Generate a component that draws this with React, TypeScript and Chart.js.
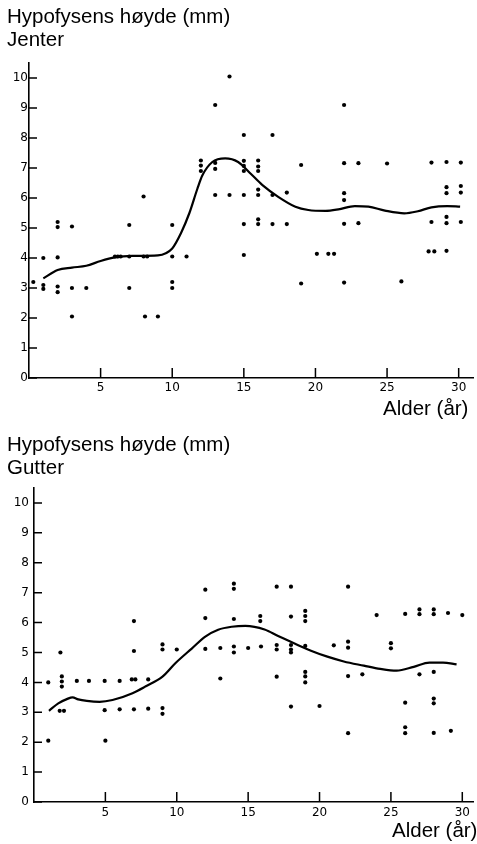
import React, { useEffect, useRef } from 'react';
import { Chart, registerables } from 'chart.js';

Chart.register(...registerables);

// ---- tick values ----
const yTickValues = [0, 1, 2, 3, 4, 5, 6, 7, 8, 9, 10];
const xTickValues = [5, 10, 15, 20, 25, 30];

// ---- Jenter (girls) ----
const girlsAge = [
  0.3, 1, 1, 1, 2, 2, 2, 2, 2, 3, 3, 3, 4, 6, 6.2, 6.4, 7, 7, 7, 8, 8, 8.25, 8.1, 9,
  10, 10, 10, 10, 11, 12, 12, 12, 13, 13, 13, 13, 14, 14,
  15, 15, 15, 15, 15, 15, 15, 16, 16, 16, 16, 16, 16, 16, 17, 17, 17, 18, 18,
  19, 19, 20.1, 20.9, 21.3, 22, 22, 22, 22, 22, 22, 23, 23, 25, 26,
  28.1, 28.1, 27.9, 28.3, 29.15, 29.15, 29.15, 29.15, 29.15, 29.15, 30.15, 30.15, 30.15, 30.15,
];
const girlsHeight = [
  3.2, 4.0, 3.1, 2.97, 5.2, 5.03, 4.02, 3.05, 2.86, 5.05, 3.0, 2.05, 3.0, 4.05, 4.05, 4.05, 5.1, 4.05, 3.0, 6.05, 4.05, 4.05, 2.05, 2.05,
  5.1, 4.05, 3.2, 3.0, 4.05, 7.25, 7.08, 6.9, 9.1, 7.17, 6.97, 6.1, 10.05, 6.1,
  8.1, 7.24, 7.07, 6.9, 6.1, 5.13, 4.1, 7.25, 7.05, 6.9, 6.28, 6.1, 5.29, 5.13, 8.1, 6.1, 5.13, 6.18, 5.13,
  7.1, 3.15, 4.14, 4.14, 4.14, 9.1, 7.16, 6.16, 5.93, 5.14, 3.18, 7.16, 5.16, 7.15, 3.22,
  7.18, 5.2, 4.22, 4.22, 7.2, 6.36, 6.16, 5.37, 5.16, 4.24, 7.18, 6.4, 6.18, 5.2,
];
const girlsCurveAge = [
  1.0, 2.0, 3.0, 4.0, 5.0, 6.0, 7.2, 9.0, 10.0, 10.6, 11.2, 11.75, 12.1, 12.8, 13.7, 14.6, 15.5, 16.3, 17.4,
  18.6, 19.5, 20.7, 21.6, 22.75, 23.7, 24.85, 26.2, 27.15, 28.1, 29.2, 30.1,
];
const girlsCurveHeight = [
  3.32, 3.6, 3.68, 3.74, 3.9, 4.02, 4.07, 4.09, 4.32, 4.82, 5.5, 6.3, 6.75, 7.2, 7.32, 7.2, 6.8, 6.43, 6.04,
  5.71, 5.6, 5.57, 5.62, 5.73, 5.71, 5.58, 5.49, 5.56, 5.69, 5.73, 5.71,
];

// ---- Gutter (boys) ----
const boysAge = [
  1, 1, 1.85, 1.95, 1.95, 1.95, 1.8, 2.1, 3, 3.85, 4.95, 4.95, 5, 6, 6, 6.85, 7.1, 7, 7, 7, 8, 8,
  9, 9, 9, 9, 10, 12, 12, 12, 13.05, 13.05, 14, 14, 14, 14, 14, 15, 15.85, 15.85, 15.9,
  17, 17, 17, 17, 18, 18, 18, 18, 18, 18, 19, 19, 19, 19, 19, 19, 19, 20, 21,
  22, 22, 22, 22, 22, 23, 24, 25, 25, 26, 26, 26, 26, 27, 27, 27, 28, 28, 28, 28, 28, 28, 29, 29.2, 30,
];
const boysHeight = [
  4.0, 2.05, 5.0, 4.2, 4.03, 3.86, 3.05, 3.05, 4.05, 4.05, 4.05, 3.07, 2.05, 4.05, 3.1, 4.1, 4.1, 5.05, 6.05, 3.1, 4.1, 3.12,
  5.27, 5.1, 3.14, 2.95, 5.1, 7.1, 6.15, 5.12, 5.15, 4.13, 7.3, 7.13, 6.12, 5.2, 5.0, 5.15, 6.22, 6.05, 5.2,
  7.2, 5.25, 5.1, 4.19, 7.2, 6.2, 5.25, 5.1, 5.0, 3.19, 6.39, 6.22, 6.05, 5.22, 4.35, 4.2, 4.0, 3.21, 5.24,
  7.2, 5.36, 5.16, 4.21, 2.3, 4.27, 6.25, 5.31, 5.14, 6.29, 3.32, 2.5, 2.3, 6.44, 6.28, 4.27, 6.44, 6.28, 4.35, 3.46, 3.3, 2.31, 6.32, 2.38, 6.25,
];
const boysCurveAge = [
  1.05, 1.7, 2.3, 2.7, 3.1, 3.7, 4.6, 5.5, 6.9, 7.8, 9.0, 9.9, 11.05, 12.0, 12.9, 13.85, 14.8,
  16.15, 17.1, 18.25, 19.4, 20.55, 21.7, 23.1, 24.25, 25.4, 26.6, 27.7, 28.65, 29.6,
];
const boysCurveHeight = [
  3.05, 3.3, 3.44, 3.5, 3.43, 3.38, 3.35, 3.41, 3.64, 3.86, 4.19, 4.64, 5.13, 5.53, 5.76, 5.86, 5.89,
  5.77, 5.55, 5.3, 5.06, 4.86, 4.7, 4.56, 4.45, 4.39, 4.52, 4.66, 4.66, 4.6,
];

const inwardTicks = {
  id: 'inwardTicks',
  afterDraw(chart: any) {
    const { ctx, chartArea } = chart;
    const x = chart.scales.x;
    const y = chart.scales.y;
    ctx.save();
    ctx.strokeStyle = '#000';
    ctx.lineWidth = 1.5;
    ctx.beginPath();
    x.ticks.forEach((t: any) => {
      const px = x.getPixelForValue(t.value);
      ctx.moveTo(px, chartArea.bottom);
      ctx.lineTo(px, chartArea.bottom - 10);
    });
    y.ticks.forEach((t: any) => {
      const py = y.getPixelForValue(t.value);
      ctx.moveTo(chartArea.left, py);
      ctx.lineTo(chartArea.left + 8, py);
    });
    ctx.stroke();
    ctx.restore();
  },
};

type Opts = {
  ages: number[];
  heights: number[];
  curveAges: number[];
  curveHeights: number[];
  xMax: number;
  padTop: number;
  padRight: number;
  yWidth: number;
  xHeight: number;
  yLabelPad: number;
  xLabelPad: number;
};

function makeChart(canvas: HTMLCanvasElement, o: Opts) {
  const points = o.ages.map((a, i) => ({ x: a, y: o.heights[i] }));
  const curve = o.curveAges.map((a, i) => ({ x: a, y: o.curveHeights[i] }));
  const tickFont = { family: "'DejaVu Sans', sans-serif", size: 12 };
  return new Chart(canvas, {
    type: 'scatter',
    data: {
      datasets: [
        {
          data: points,
          showLine: false,
          pointRadius: 2.1,
          pointBorderWidth: 0,
          pointBackgroundColor: '#000',
          backgroundColor: '#000',
        },
        {
          data: curve,
          showLine: true,
          pointRadius: 0,
          borderColor: '#000',
          borderWidth: 2.2,
          cubicInterpolationMode: 'monotone',
          fill: false,
        } as any,
      ],
    },
    options: {
      responsive: false,
      animation: false,
      events: [],
      layout: { padding: { top: o.padTop, right: o.padRight, left: 0, bottom: 0 } },
      plugins: {
        legend: { display: false },
        tooltip: { enabled: false },
        title: { display: false },
      },
      scales: {
        x: {
          type: 'linear',
          min: 0,
          max: o.xMax,
          grid: { display: false, drawTicks: false },
          border: { display: true, color: '#000', width: 1.6 },
          ticks: { color: '#000', font: tickFont, padding: o.xLabelPad, maxRotation: 0, autoSkip: false },
          afterBuildTicks: (s: any) => {
            s.ticks = xTickValues.map((v) => ({ value: v }));
          },
          afterFit: (s: any) => {
            s.height = o.xHeight;
          },
        },
        y: {
          type: 'linear',
          min: 0,
          max: 10.5,
          grid: { display: false, drawTicks: false },
          border: { display: true, color: '#000', width: 1.6 },
          ticks: { color: '#000', font: tickFont, padding: o.yLabelPad, autoSkip: false },
          afterBuildTicks: (s: any) => {
            s.ticks = yTickValues.map((v) => ({ value: v }));
          },
          afterFit: (s: any) => {
            s.width = o.yWidth;
          },
        },
      },
    },
    plugins: [inwardTicks],
  } as any);
}

const textFont = "'Liberation Sans', Arial, Helvetica, sans-serif";

export default function App() {
  const topRef = useRef<HTMLCanvasElement>(null);
  const botRef = useRef<HTMLCanvasElement>(null);

  useEffect(() => {
    const c1 = makeChart(topRef.current!, {
      ages: girlsAge,
      heights: girlsHeight,
      curveAges: girlsCurveAge,
      curveHeights: girlsCurveHeight,
      xMax: 31,
      padTop: 63,
      padRight: 1.6,
      yWidth: 29,
      xHeight: 44,
      yLabelPad: 1,
      xLabelPad: 3,
    });
    const c2 = makeChart(botRef.current!, {
      ages: boysAge,
      heights: boysHeight,
      curveAges: boysCurveAge,
      curveHeights: boysCurveHeight,
      xMax: 30.75,
      padTop: 64,
      padRight: 0,
      yWidth: 34,
      xHeight: 42,
      yLabelPad: 5,
      xLabelPad: 4,
    });
    return () => {
      c1.destroy();
      c2.destroy();
    };
  }, []);

  const txt: React.CSSProperties = {
    position: 'absolute',
    fontFamily: textFont,
    fontSize: '20.5px',
    lineHeight: '23px',
    color: '#000',
    whiteSpace: 'nowrap',
  };

  return (
    <div
      style={{
        position: 'absolute',
        left: 0,
        top: 0,
        width: 477,
        height: 844,
        overflow: 'hidden',
        background: '#fff',
      }}
    >
      <canvas ref={topRef} width={477} height={422} style={{ position: 'absolute', left: 0, top: 0 }} />
      <canvas ref={botRef} width={477} height={420} style={{ position: 'absolute', left: 0, top: 424 }} />
      <div style={{ ...txt, left: 7, top: 4 }}>
        Hypofysens høyde (mm)
        <br />
        Jenter
      </div>
      <div style={{ ...txt, left: 383, top: 396 }}>Alder (år)</div>
      <div style={{ ...txt, left: 7, top: 432 }}>
        Hypofysens høyde (mm)
        <br />
        Gutter
      </div>
      <div style={{ ...txt, left: 392, top: 818 }}>Alder (år)</div>
    </div>
  );
}
